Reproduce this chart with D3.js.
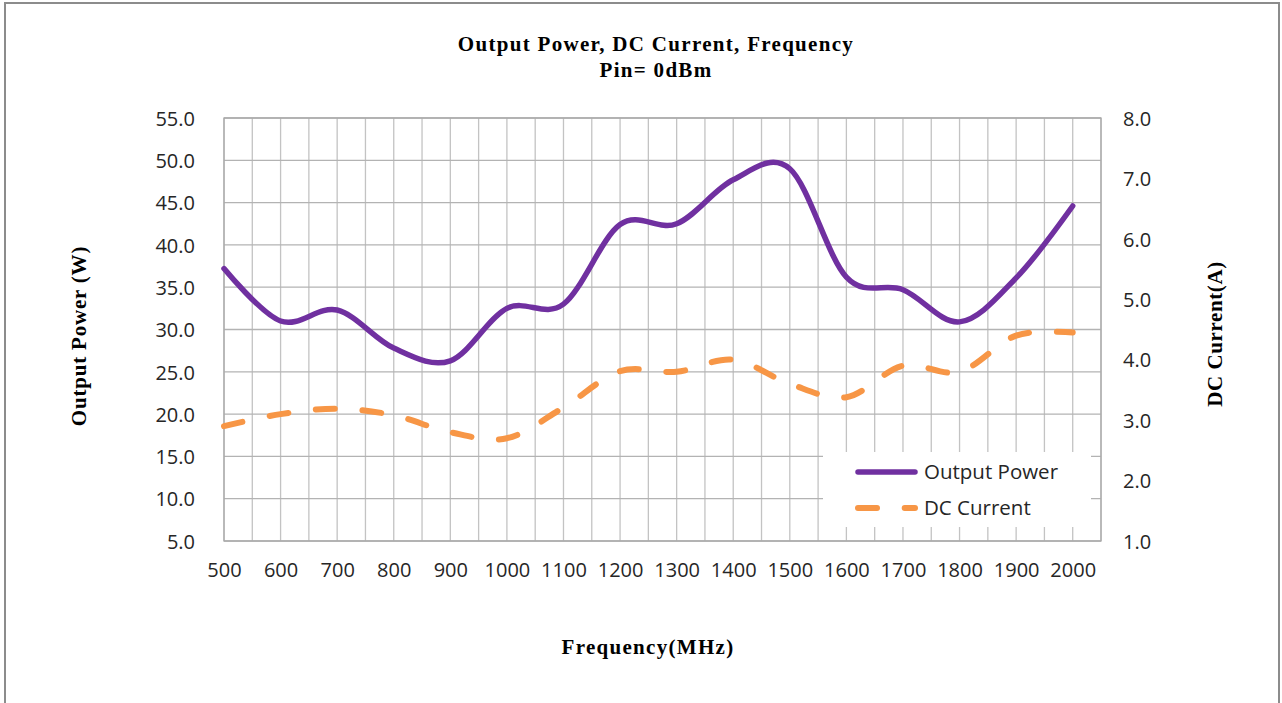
<!DOCTYPE html>
<html>
<head>
    <script src="https://d3js.org/d3.v7.min.js"></script>
    <title>Output Power, DC Current, Frequency</title>
    <style>
        body { margin: 0; background: #fff; }
    </style>
</head>
<body>
    <svg id="plot" height="703" width="1282"></svg>
    <script>
        // data
        const freq = [500, 600, 700, 800, 900, 1000, 1100, 1200, 1300, 1400, 1500, 1600, 1700, 1800, 1900, 2000];
        const outputPower = [37.2, 31.0, 32.3, 27.8, 26.3, 32.5, 33.0, 42.4, 42.5, 47.7, 49.0, 36.2, 34.7, 30.9, 36.1, 44.6];
        const dcCurrent = [2.90, 3.10, 3.19, 3.08, 2.80, 2.70, 3.21, 3.81, 3.80, 4.00, 3.60, 3.38, 3.90, 3.80, 4.40, 4.45];
        const leftTicks = [5, 10, 15, 20, 25, 30, 35, 40, 45, 50, 55];
        const rightTicks = [1, 2, 3, 4, 5, 6, 7, 8];
        const seriesNames = ["Output Power", "DC Current"];

        const svg = d3.select('svg#plot');
        const margin = {top: 118, right: 181, bottom: 162, left: 224};
        const width = +svg.attr('width');
        const height = +svg.attr('height');
        const chartWidth = width - margin.left - margin.right;
        const chartHeight = height - margin.top - margin.bottom;

        const purple = "#7030a0";
        const orange = "#f79646";
        const serif = "'Liberation Serif', 'Times New Roman', serif";
        const sans = "'Open Sans', 'Noto Sans', sans-serif";

        // outer frame of the chart object
        svg.append("rect")
            .attr("x", 5).attr("y", 3)
            .attr("width", 1274).attr("height", 720)
            .attr("fill", "none")
            .attr("stroke", "#8c8c8c")
            .attr("stroke-width", 2);

        const chartArea = svg.append('g')
            .attr('transform', `translate(${margin.left},${margin.top})`);

        // SCALES
        const xScale = d3.scaleLinear().domain([500, 2050]).range([0, chartWidth]);
        const yLeft = d3.scaleLinear().domain([5, 55]).range([chartHeight, 0]);
        const yRight = d3.scaleLinear().domain([1, 8]).range([chartHeight, 0]);

        // gridlines
        chartArea.append("g")
            .selectAll("line.v")
            .data(d3.range(500, 2051, 50))
            .join("line")
            .attr("x1", d => xScale(d)).attr("x2", d => xScale(d))
            .attr("y1", 0).attr("y2", chartHeight)
            .attr("stroke", "#c3c3c3")
            .attr("stroke-width", 1.3);

        chartArea.append("g")
            .selectAll("line.h")
            .data(leftTicks)
            .join("line")
            .attr("x1", 0).attr("x2", chartWidth)
            .attr("y1", d => yLeft(d)).attr("y2", d => yLeft(d))
            .attr("stroke", "#b3b3b3")
            .attr("stroke-width", 1.3);

        // plot border
        chartArea.append("rect")
            .attr("width", chartWidth).attr("height", chartHeight)
            .attr("fill", "none")
            .attr("stroke", "#a9a9a9")
            .attr("stroke-width", 1.3);

        // axes (labels only)
        const xAxis = chartArea.append("g")
            .attr("transform", `translate(0,${chartHeight})`)
            .call(d3.axisBottom(xScale).tickValues(freq).tickFormat(d3.format("d")).tickSize(0).tickPadding(22));
        const yAxisL = chartArea.append("g")
            .call(d3.axisLeft(yLeft).tickValues(leftTicks).tickFormat(d3.format(".1f")).tickSize(0).tickPadding(29));
        const yAxisR = chartArea.append("g")
            .attr("transform", `translate(${chartWidth},0)`)
            .call(d3.axisRight(yRight).tickValues(rightTicks).tickFormat(d3.format(".1f")).tickSize(0).tickPadding(22));

        [xAxis, yAxisL, yAxisR].forEach(ax => {
            ax.select(".domain").remove();
            ax.selectAll("text")
                .style("font-family", sans)
                .style("font-size", "20px")
                .attr("fill", "#262626");
        });
        yAxisL.selectAll("text").attr("dy", "0.36em");
        yAxisR.selectAll("text").attr("dy", "0.36em");
        xAxis.selectAll("text").attr("dy", "0.72em");

        // lines
        const powerLine = d3.line()
            .x((d, i) => xScale(freq[i]))
            .y(d => yLeft(d))
            .curve(d3.curveCardinal.tension(0));
        const currentLine = d3.line()
            .x((d, i) => xScale(freq[i]))
            .y(d => yRight(d))
            .curve(d3.curveCardinal.tension(0));

        chartArea.append("path")
            .datum(dcCurrent)
            .attr("d", currentLine)
            .attr("fill", "none")
            .attr("stroke", orange)
            .attr("stroke-width", 6)
            .attr("stroke-linecap", "round")
            .attr("stroke-dasharray", "19,27.7");

        chartArea.append("path")
            .datum(outputPower)
            .attr("d", powerLine)
            .attr("fill", "none")
            .attr("stroke", purple)
            .attr("stroke-width", 5.5)
            .attr("stroke-linecap", "round")
            .attr("stroke-linejoin", "round");

        // legend
        const legend = svg.append("g");
        legend.append("rect")
            .attr("x", 823).attr("y", 452)
            .attr("width", 268).attr("height", 75)
            .attr("fill", "#fff");
        seriesNames.forEach((name, i) => {
            const ly = 472 + i * 36;
            legend.append("line")
                .attr("x1", 858).attr("x2", 915)
                .attr("y1", ly).attr("y2", ly)
                .attr("stroke", i === 0 ? purple : orange)
                .attr("stroke-width", i === 0 ? 5.5 : 6)
                .attr("stroke-linecap", "round")
                .attr("stroke-dasharray", i === 0 ? null : "19,27.7");
            legend.append("text")
                .attr("x", 924).attr("y", ly + 7)
                .text(name)
                .style("font-family", sans)
                .style("font-size", "20.5px")
                .attr("fill", "#262626");
        });

        // titles
        const title = svg.append("text")
            .attr("text-anchor", "middle")
            .style("font-family", serif)
            .style("font-weight", "bold")
            .style("font-size", "21px")
            .style("letter-spacing", "1.3px")
            .attr("fill", "#000");
        title.append("tspan").attr("x", 656).attr("y", 51).text("Output Power, DC Current,  Frequency");
        title.append("tspan").attr("x", 656).attr("y", 77).text("Pin= 0dBm");

        svg.append("text")
            .attr("transform", "translate(86,336) rotate(-90)")
            .attr("text-anchor", "middle")
            .style("font-family", serif)
            .style("font-weight", "bold")
            .style("font-size", "21px")
            .style("letter-spacing", "0.8px")
            .text("Output Power (W)");

        svg.append("text")
            .attr("transform", "translate(1222,334) rotate(-90)")
            .attr("text-anchor", "middle")
            .style("font-family", serif)
            .style("font-weight", "bold")
            .style("font-size", "21px")
            .style("letter-spacing", "0.6px")
            .text("DC Current(A)");

        svg.append("text")
            .attr("x", 648).attr("y", 654)
            .attr("text-anchor", "middle")
            .style("font-family", serif)
            .style("font-weight", "bold")
            .style("font-size", "21px")
            .style("letter-spacing", "1.3px")
            .text("Frequency(MHz)");
    </script>
</body>
</html>
